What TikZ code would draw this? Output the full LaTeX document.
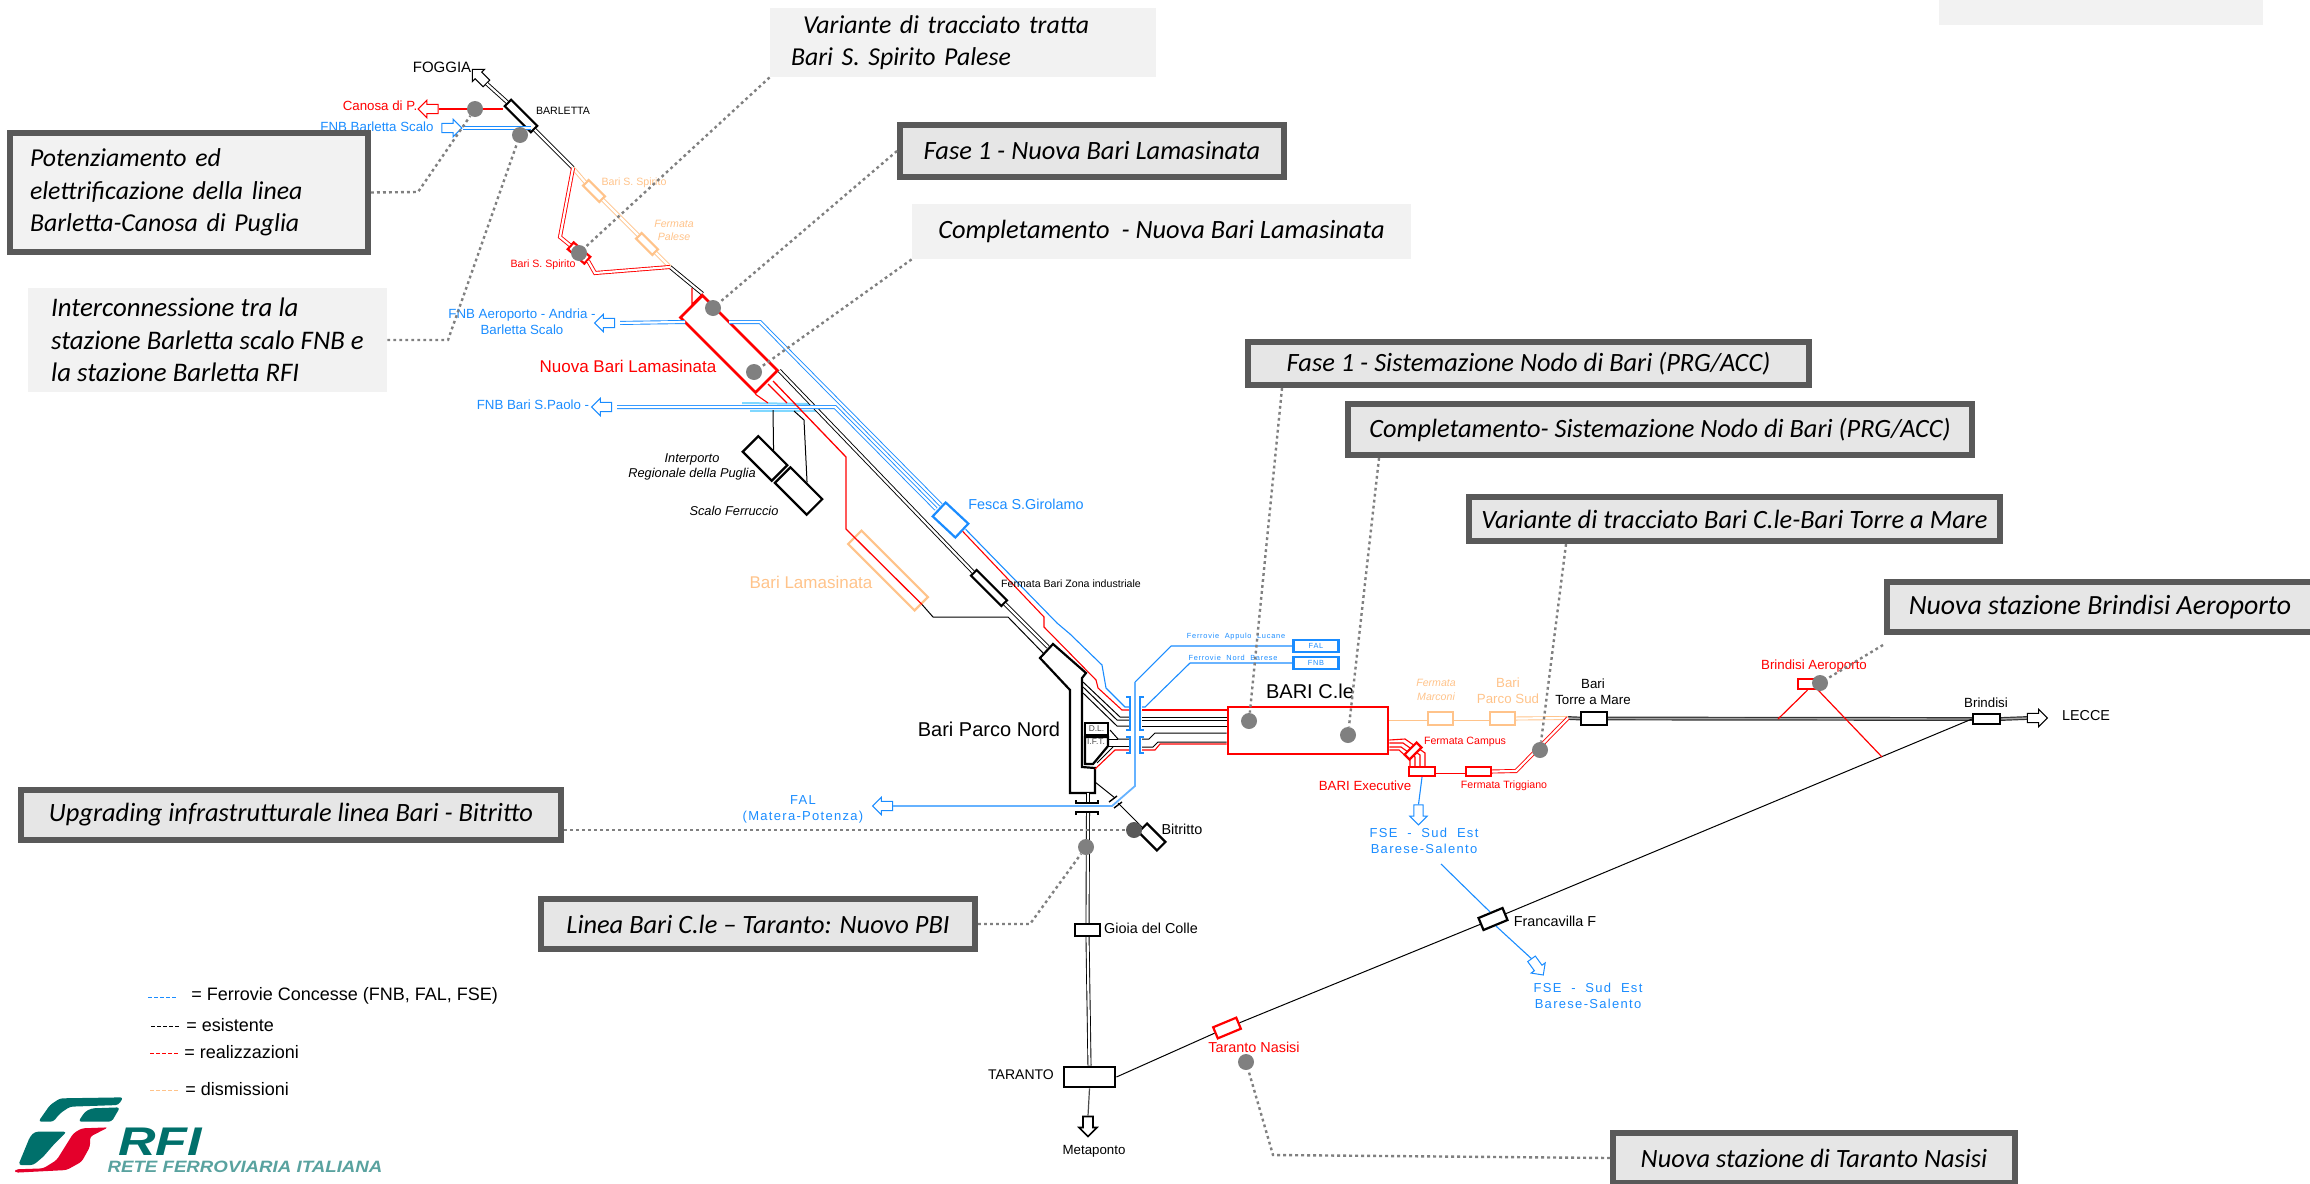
\documentclass[tikz,border=0pt]{standalone}
\usepackage{fontspec}
\setmainfont{Liberation Sans}
\newfontfamily\notefont{Carlito}
\newfontfamily\cadfont[LetterSpace=10]{Liberation Sans}
\usetikzlibrary{arrows.meta}
\usetikzlibrary{positioning}
\usetikzlibrary{shapes.arrows}
\definecolor{concblue}{HTML}{1A8CFF}
\definecolor{concpale}{HTML}{66B2FF}
\definecolor{concband}{HTML}{80D8FF}
\definecolor{newred}{HTML}{FF0000}
\definecolor{oldorange}{HTML}{FFC38A}
\definecolor{notedark}{HTML}{595959}
\definecolor{notelight}{HTML}{F2F2F2}
\definecolor{notemid}{HTML}{E6E6E6}
\definecolor{dotgray}{HTML}{808080}
\definecolor{rfigreen}{HTML}{00706B}
\definecolor{rfired}{HTML}{E4002B}

\begin{document}
\begin{tikzpicture}[
  x=.5pt, y=-.5pt,
  boxsize/.style 2 args={minimum width=#1*.5pt, minimum height=#2*.5pt},
  stn/.style={draw=black, fill=white, inner sep=0, line width=1.1pt},
  newstn/.style={stn, draw=newred},
  oldstn/.style={stn, draw=oldorange},
  concstn/.style={stn, draw=concblue},
  dbl/.style={draw=black, line width=.45pt, double=white, double distance=1.1pt},
  dblred/.style={dbl, draw=newred},
  dblold/.style={dbl, draw=oldorange},
  dblconc/.style={dbl, draw=concblue},
  dblmain/.style={draw=black!80, line width=.6pt, double=black!35, double distance=.7pt},
  rail/.style={draw=black, line width=.5pt},
  railred/.style={draw=newred, line width=.55pt},
  railconc/.style={draw=concblue, line width=.55pt},
  railpale/.style={draw=concpale, line width=.9pt},
  tie/.style={draw=concblue, line width=1.1pt},
  blockarrow/.style={single arrow, draw=black, fill=white, inner sep=2.1pt, line width=.5pt,
    minimum height=10pt, minimum width=8.2pt, single arrow head extend=2pt},
  lab/.style={inner sep=0, align=center, font=\fontsize{6.65}{8}\selectfont},
  labs/.style={lab, font=\fontsize{5.3}{6.5}\selectfont},
  labm/.style={lab, font=\fontsize{7.2}{8.6}\selectfont},
  labl/.style={lab, font=\fontsize{8.5}{10}\selectfont},
  labxl/.style={lab, font=\fontsize{10}{12}\selectfont},
  cad/.style={lab, text=concblue, font=\cadfont\fontsize{6.5}{8}\selectfont},
  cadsmall/.style={cad, font=\cadfont\fontsize{3.7}{4.5}\selectfont},
  legend/.style={lab, anchor=west, font=\fontsize{9}{11}\selectfont},
  legdash/.style={line width=.5pt, dash pattern=on 2pt off 1pt},
  note/.style={fill=notelight, inner sep=0, align=left, font=\notefont\itshape\fontsize{13.2}{16.2}\selectfont},
  noteframe/.style={note, draw=notedark, fill=notemid, line width=3pt},
  hotspot/.style={circle, fill=dotgray, inner sep=0, minimum size=8pt},
  leader/.style={draw=dotgray, line width=1.2pt, dash pattern=on 1.4pt off 1.6pt},
  ]

\useasboundingbox (0,0) rectangle (2310,1183);
\clip (0,0) rectangle (2310,1183);

\node [stn, boxsize={37}{9}, rotate=-45] (barletta) at (521,116) {};
\node [oldstn, boxsize={23}{8}, rotate=-45] (spiritoold) at (594,191) {};
\node [oldstn, boxsize={23}{8}, rotate=-45] (paleseold) at (647,244) {};
\node [newstn, boxsize={22}{9}, rotate=-41] (spiritonew) at (579,253) {};
\node [newstn, boxsize={106}{31}, rotate=-45, line width=1.3pt] (nuovabari) at (729,344) {};
\node [stn, boxsize={41}{22}, rotate=-45] (interporto) at (765,458.5) {};
\node [stn, boxsize={45}{22}, rotate=-45] (ferruccio) at (798.5,491) {};
\node [concstn, boxsize={31}{19}, rotate=-43] (fesca) at (950.5,520) {};
\node [oldstn, boxsize={94}{19}, rotate=-45, fill=none] (lamaold) at (888,570.5) {};
\node [stn, boxsize={43}{8}, rotate=-45] (zonaind) at (989,588) {};
\node [stn, boxsize={26}{12}, rotate=-45] (bitritto) at (1152,837) {};
\node [stn, boxsize={25}{12}] (gioia) at (1087.5,930) {};
\node [stn, boxsize={51}{20}, line width=1.4pt] (taranto) at (1089.5,1077) {};
\node [newstn, boxsize={25}{12}, rotate=22.6] (nasisi) at (1227,1028) {};
\node [stn, boxsize={26}{13}, rotate=22.6] (francavilla) at (1493,919) {};
\node [newstn, boxsize={160}{47}, line width=1.3pt] (baricle) at (1308,730.5) {};
\node [oldstn, boxsize={25}{13}] (marconi) at (1440.5,718.5) {};
\node [oldstn, boxsize={25}{13}] (parcosud) at (1502.5,718.5) {};
\node [stn, boxsize={26}{13}, line width=1.2pt] (torre) at (1594,718.5) {};
\node [stn, boxsize={27}{10}] (brindisi) at (1986.5,719) {};
\node [newstn, boxsize={19}{10}] (aeroporto) at (1807.5,684) {};
\node [newstn, boxsize={26}{9}] (executive) at (1422,771.5) {};
\node [newstn, boxsize={25}{9}] (triggiano) at (1478.5,771.5) {};
\node [concstn, boxsize={45}{12}, cadsmall, fill=white] (falbox) at (1316,646) {FAL};
\node [concstn, boxsize={45}{12}, cadsmall, fill=white] (fnbbox) at (1316,663) {FNB};

\node [blockarrow, rotate=135] (arrfoggia) at (481,78) {};
\node [blockarrow, rotate=180, draw=newred] (arrcanosa) at (430.5,109) {};
\node [blockarrow, draw=concblue] (arrfnb) at (449.5,128) {};
\node [blockarrow, rotate=180, draw=concblue] (arrandria) at (607,323) {};
\node [blockarrow, rotate=180, draw=concblue] (arrpaolo) at (604,407) {};
\node [blockarrow, rotate=180, draw=concblue] (arrfal) at (885,806) {};
\node [blockarrow, rotate=-90, line width=.8pt] (arrmeta) at (1088,1124) {};
\node [blockarrow] (arrlecce) at (2035,718) {};
\node [blockarrow, rotate=-90, draw=concblue] (arrfse) at (1418.5,812.5) {};
\node [blockarrow, rotate=-54, draw=concblue] (arrsalento) at (1536,965) {};

\coordinate (jspirito) at (573,168);
\coordinate (jpalese) at (670,267);
\coordinate (andriain) at (685,322);
\coordinate (andriaout) at (729,322);
\coordinate (paoloin) at (936,509);
\coordinate (andriafes) at (941,505);
\coordinate (parcoin) at (1048,647);
\coordinate (parcoside) at (1044,654);
\coordinate (jtorre) at (1568,718);
\coordinate (fsestart) at (1441,864);
\coordinate (bandone) at (742,403);
\coordinate (bandtwo) at (813,404);
\coordinate (bandthree) at (750,411);
\coordinate (bandfour) at (820,411);
\coordinate (branchup) at (1778,719);
\coordinate (branchdown) at (1882,757);

\draw [concband, line width=1pt] (bandone) -- (bandtwo);
\draw [concband, line width=1pt] (bandthree) -- (bandfour);

\path [rail] (773,410) edge (interporto.north);
\draw [rail] (794,411) -- (804,420) -- (ferruccio.north);

\path [every edge/.style={dbl}]
(arrfoggia.tail) edge (barletta.west)
(barletta.east) edge (jspirito)
(jpalese) edge (nuovabari.north west)
(nuovabari.north east) edge (zonaind.west)
(zonaind.east) edge (parcoin)
(gioia.south) edge (taranto.north);
\path [every edge/.style={dblmain}]
(jtorre) edge (torre.west)
(torre.east) edge (brindisi.west)
(brindisi.east) edge (arrlecce.tail);
\draw [dbl] (1088,812) -- (gioia.north);
\path [every edge/.style={dblold}]
(jspirito) edge (spiritoold.west)
(spiritoold.east) edge (paleseold.west)
(paleseold.east) edge (jpalese)
(baricle.east |- marconi.west) edge (marconi.west)
(marconi.east) edge (parcosud.west)
(parcosud.east) edge (jtorre);
\draw [dblred] (jspirito) -- (560,237) -- (spiritonew.west);
\draw [dblred] (spiritonew.east) -- (595,273) -- (jpalese);
\draw [dblred] (jtorre) -- (1516,771) -- (triggiano.east);
\draw [dblred] (triggiano.west) -- (executive.east);

\draw [railred, line width=.7pt] (arrcanosa.tail) -- (arrcanosa.tail -| barletta.south west);
\draw [dblconc] (arrfnb.tip) -- (arrfnb.tip -| barletta.south east);
\draw [dblconc, shorten <=2.5pt] (arrandria.tail) -- (andriain);
\draw [dblconc] (andriaout) -- (760,322) -- (andriafes);
\draw [dblconc, shorten <=2.5pt] (arrpaolo.tail) -- (835,407) -- (paoloin);

\draw [railred] (nuovabari.north west) -- (692,304) -- (692,288);
\draw [railred] (nuovabari.south east) -- (768,403);
\draw [railred] (768,384) -- (787,403);
\draw [railred, line width=.65pt] (773,381) -- (846,457) -- (846,529) -- (lamaold.east);
\draw [rail] (lamaold.east) -- (933,617) -- (1008,617) -- (parcoside);
\draw [railred] (fesca.east) -- (1044,617) -- (1044,627) -- (1096,680) -- (1098,688) -- (1122,710) -- (1130,710);
\draw [railconc] ([shift={(3,-2)}]fesca.east) -- (1057,623) -- (1070,634) -- (1102,665) -- (1106,688) -- (1125,707) -- (1130,707);

\draw [railconc] (falbox.west) -- (1171,646) -- (1135,682);
\draw [railpale] (1135,682) -- (1135,786) -- (1112,806) -- (arrfal.tail);
\draw [railconc] (fnbbox.west) -- (1190,663) -- (1145,707) -- (1142,707);

\draw [stn, line width=1.1pt] (1053,644) -- (1040,658) -- (1070,690) -- (1070,793) -- (1095,793) -- (1095,768) -- (1082,767) -- (1082,678) -- (1086,673) -- cycle;
\node [stn, boxsize={23}{12}, text=black!70, font=\fontsize{4.2}{5}\selectfont] (dlbox) at (1096.5,729) {D.L.};
\draw [stn] (1085,737) -- (1108,737) -- (1108,746) -- (1093,764) -- (1085,764) -- cycle;
\node [inner sep=0, text=black!70, font=\fontsize{4.2}{5}\selectfont] (iftbox) at (1096,742) {I.F.T.};

\draw [rail] (1083,682) -- (1120,717) -- (1130,717);
\draw [rail] (1083,687) -- (1117,720) -- (1130,720);
\draw [rail] (1083,693) -- (1117,726) -- (1130,726);
\draw [rail] (1110,730) -- (1118,739) -- (1130,739);
\draw [rail] (1108,739) -- (1118,739);
\draw [rail] (1108,746) -- (1130,746);
\draw [rail] (1097,763) -- (1113,747);
\draw [railred] (1095,769) -- (1115,750) -- (1130,750);
\draw [railred] (1142,710) -- (baricle.west |- 0,710);
\draw [rail] (1142,717) -- (baricle.west |- 0,717);
\draw [rail] (1142,720) -- (baricle.west |- 0,720);
\draw [rail] (1142,726) -- (baricle.west |- 0,726);
\draw [rail] (1142,739) -- (1149,739) -- (1155,733) -- (baricle.west |- 0,733);
\draw [rail] (1142,747) -- (1153,747) -- (1158,742) -- (baricle.west |- 0,742);
\draw [railred] (1142,750) -- (1155,750) -- (1160,744) -- (baricle.west |- 0,744);
\foreach \ya/\yb in {697/730,737/753} {
  \draw [tie] (1126,\ya) -- (1130,\ya) -- (1130,\yb) -- (1126,\yb);
  \draw [tie] (1144,\ya) -- (1140,\ya) -- (1140,\yb) -- (1144,\yb);
}

\draw [dbl] (1088,793) -- (1088,803);
\draw [rail, line width=.8pt] (1076,800) -- (1076,803) -- (1098,803) -- (1098,800);
\draw [rail, line width=.8pt] (1076,815) -- (1076,812) -- (1098,812) -- (1098,815);
\draw [rail] (1095,782) -- (1115,798);
\draw [rail, line width=.7pt] (1109,802) -- (1117,796);
\draw [rail, line width=.7pt] (1114,808) -- (1122,802);
\draw [rail] (1118,803) -- (bitritto.west);
\draw [rail, draw=black!70, line width=.6pt] (taranto.south) -- (arrmeta.tail);
\path [rail]
(taranto.east) edge (nasisi.west)
(nasisi.east) edge (francavilla.west)
(francavilla.east) edge (brindisi.west);

\draw [railred, line width=.6pt] (aeroporto.south) -- (branchup);
\draw [railred, line width=.6pt] (aeroporto.south east) -- (branchdown);

\draw [railred] (baricle.east |- 0,740) -- (1405,739) -- (1425,753) -- (1425,767);
\draw [railred] (baricle.east |- 0,743) -- (1403,743) -- (1420,755) -- (1420,767);
\draw [railred] (baricle.east |- 0,747) -- (1401,747) -- (1415,757) -- (1415,767);
\draw [railred] (baricle.east |- 0,750) -- (1399,750) -- (1410,760) -- (1410,767);
\node [newstn, boxsize={17}{7}, rotate=45] (campus) at (1413,751) {};

\draw [railconc] (executive.south) -- (arrfse.tail);
\draw [railconc] (fsestart) -- (francavilla.north);
\draw [railconc] (francavilla.south) -- (arrsalento.tail);

\node [labm, font=\fontsize{7.5}{9}\selectfont] (foggialab) at (442,67) {FOGGIA};
\node [labs] (barlettalab) at (563,111) {BARLETTA};
\node [lab, text=newred] (canosalab) at (380,106) {Canosa di P.};
\node [lab, text=concblue] (fnblab) at (377,127) {FNB Barletta Scalo};
\node [labs, text=oldorange] (spiritooldlab) at (634,183) {Bari S. Spirito};
\node [labs, text=oldorange, font=\itshape\fontsize{5.3}{6.5}\selectfont] (paleselab) at (674,230) {Fermata\\Palese};
\node [labs, text=newred] (spiritonewlab) at (543,265) {Bari S. Spirito};
\node [lab, text=concblue] (andrialab) at (522,322) {FNB Aeroporto - Andria -\\Barletta Scalo};
\node [labl, text=newred] (nuovalab) at (628,366) {Nuova Bari Lamasinata};
\node [lab, text=concblue] (paololab) at (533,405) {FNB Bari S.Paolo -};
\node [lab, font=\itshape\fontsize{6.4}{7.5}\selectfont] (interportolab) at (692,466.5) {Interporto\\Regionale della Puglia};
\node [lab, font=\itshape\fontsize{6.4}{7.5}\selectfont] (ferrucciolab) at (734,511) {Scalo Ferruccio};
\node [labm, text=concblue] (fescalab) at (1026,504) {Fesca S.Girolamo};
\node [labl, text=oldorange] (lamaoldlab) at (811,582) {Bari Lamasinata};
\node [labs] (zonalab) at (1071,584) {Fermata Bari Zona industriale};
\node [labxl] (parconordlab) at (989,729) {Bari Parco Nord};
\node [cadsmall] (appulolab) at (1236,637) {Ferrovie\ \ Appulo\ \ Lucane};
\node [cadsmall] (baresefnblab) at (1233,658) {Ferrovie\ \ Nord\ \ Barese};
\node [labxl] (baricle lab) at (1310,691) {BARI C.le};
\node [labs, text=oldorange, font=\itshape\fontsize{5.3}{7}\selectfont] (marconilab) at (1436,690) {Fermata\\Marconi};
\node [lab, text=oldorange] (parcosudlab) at (1508,691) {Bari\\Parco Sud};
\node [lab] (torrelab) at (1593,691.5) {Bari\\Torre a Mare};
\node [lab] (brindisilab) at (1986,703) {Brindisi};
\node [lab, text=newred] (aeroportolab) at (1814,666) {Brindisi Aeroporto};
\node [labm] (leccelab) at (2086,716) {LECCE};
\node [labs, text=newred] (campuslab) at (1465,742) {Fermata Campus};
\node [labs, text=newred] (triggianolab) at (1504,786) {Fermata Triggiano};
\node [lab, text=newred] (executivelab) at (1365,786) {BARI Executive};
\node [cad] (fselab) at (1424,841) {FSE\ \ -\ \ Sud\ \ Est\\Barese-Salento};
\node [cad] (salentolab) at (1588,996) {FSE\ \ -\ \ Sud\ \ Est\\Barese-Salento};
\node [cad] (fallab) at (803,809) {FAL\\(Matera-Potenza)};
\node [labm] (bitrittolab) at (1182,829) {Bitritto};
\node [labm] (gioialab) at (1151,928) {Gioia del Colle};
\node [labm] (francavillalab) at (1555,921) {Francavilla F};
\node [labm, text=newred] (nasisilab) at (1254,1047) {Taranto Nasisi};
\node [lab, font=\fontsize{7}{9}\selectfont] (tarantolab) at (1021,1075) {TARANTO};
\node [lab] (metapontolab) at (1094,1151) {Metaponto};

\coordinate (legblueA) at (148,997);
\coordinate (legblueB) at (177,997);
\coordinate (legblackA) at (151,1026);
\coordinate (legblackB) at (180,1026);
\coordinate (legredA) at (150,1053);
\coordinate (legredB) at (178,1053);
\coordinate (legoldA) at (150,1090);
\coordinate (legoldB) at (178,1090);
\draw [legdash, concblue] (legblueA) -- (legblueB);
\draw [legdash, black] (legblackA) -- (legblackB);
\draw [legdash, newred] (legredA) -- (legredB);
\draw [legdash, oldorange] (legoldA) -- (legoldB);
\node [legend] (legconc) at (191,996) {= Ferrovie Concesse (FNB, FAL, FSE)};
\node [legend] (legexist) at (186,1025) {= esistente};
\node [legend] (legreal) at (184,1052) {= realizzazioni};
\node [legend] (legdism) at (185,1089) {= dismissioni};

\begin{scope}[shift={(10,1090)}, x=.1667pt, y=-.1667pt]
\fill [rfigreen, rounded corners=1.5pt] (85,95) -- (120,45) -- (150,25) -- (340,22) -- (325,45) -- (180,50) -- (150,70) -- (130,95) -- cycle;
\fill [rfigreen, rounded corners=1.5pt] (205,95) -- (225,65) -- (245,55) -- (330,52) -- (305,95) -- cycle;
\fill [rfigreen, rounded corners=1.5pt] (25,225) -- (70,225) -- (100,200) -- (130,165) -- (170,125) -- (75,125) -- (60,140) -- cycle;
\fill [rfired, rounded corners=1.5pt] (15,238) -- (100,235) -- (140,210) -- (165,170) -- (190,130) -- (215,115) -- (295,112) -- (240,140) -- (240,170) -- (215,215) -- (170,240) -- (15,248) -- cycle;
\end{scope}
\node [inner sep=0, xscale=1.3, text=rfigreen, font=\bfseries\itshape\fontsize{20}{24}\selectfont] (rfilogo) at (160,1142) {RFI};
\node [inner sep=0, xscale=1.14, text=rfigreen!65, font=\bfseries\itshape\fontsize{8.2}{10}\selectfont] (retelogo) at (245,1167) {RETE FERROVIARIA ITALIANA};

\node [note, boxsize={324}{25}] (notetop) at (2101,12.5) {};
\node [noteframe, fill=notelight, boxsize={358}{119}, text width=159pt, font=\notefont\itshape\fontsize{12.9}{16.2}\selectfont] (notecanosa) at (189,192.5) {Potenziamento ed\\elettrificazione della linea\\Barletta-Canosa di Puglia};
\node [note, boxsize={359}{104}, font=\notefont\itshape\fontsize{13.4}{16.2}\selectfont] (noteinter) at (207.5,340) {Interconnessione tra la\\stazione Barletta scalo FNB e\\la stazione Barletta RFI};
\node [note, boxsize={386}{69}, text width=172pt, font=\notefont\itshape\fontsize{12.9}{16.2}\selectfont] (notevariante) at (963,42.5) {\hspace*{6pt}Variante di tracciato tratta\\Bari S. Spirito Palese};
\node [noteframe, boxsize={384}{52}] (notefase) at (1092,151) {Fase 1 - Nuova Bari Lamasinata};
\node [note, boxsize={499}{55}] (notecompl) at (1161.5,231.5) {Completamento\ \ - Nuova Bari Lamasinata};
\node [noteframe, boxsize={561}{43}] (notenodo) at (1528.5,363.5) {Fase 1 - Sistemazione Nodo di Bari (PRG/ACC)};
\node [noteframe, boxsize={624}{51}] (notenodocompl) at (1660,429.5) {Completamento- Sistemazione Nodo di Bari (PRG/ACC)};
\node [noteframe, boxsize={531}{44}] (notetorre) at (1734.5,519) {Variante di tracciato Bari C.le-Bari Torre a Mare};
\node [noteframe, boxsize={426}{50}, font=\notefont\itshape\fontsize{13.9}{16.2}\selectfont] (noteaero) at (2100,607) {Nuova stazione Brindisi Aeroporto};
\node [noteframe, boxsize={540}{50}] (notebitritto) at (291,815) {Upgrading infrastrutturale linea Bari - Bitritto};
\node [noteframe, boxsize={434}{50}] (notepbi) at (758,924) {Linea Bari C.le – Taranto: Nuovo PBI};
\node [noteframe, boxsize={402}{50}] (notenasisi) at (1814,1158) {Nuova stazione di Taranto Nasisi};

\node [hotspot] (dotcanosa) at (475,109) {};
\node [hotspot] (dotinter) at (520,135) {};
\node [hotspot] (dotspirito) at (579,253) {};
\node [hotspot] (dotfase) at (713,308) {};
\node [hotspot] (dotcompl) at (754,372) {};
\node [hotspot] (dotnodo) at (1249,721) {};
\node [hotspot] (dotnodocompl) at (1348,735) {};
\node [hotspot] (dottorre) at (1540,750) {};
\node [hotspot] (dotaero) at (1820,683) {};
\node [hotspot, fill=black!65] (dotbitritto) at (1134,830) {};
\node [hotspot] (dotpbi) at (1086,847) {};
\node [hotspot] (dotnasisi) at (1246,1062) {};
\coordinate (aeroend) at (1883,645);

\draw [leader] (notecanosa.east) -- (418,192) -- (dotcanosa);
\draw [leader] (noteinter.east) -- (448,340) -- (dotinter);
\draw [leader] (notevariante.south west) -- (dotspirito);
\draw [leader] (notefase.west) -- (dotfase);
\draw [leader] (notecompl.south west) -- (dotcompl);
\draw [leader] ([xshift=18.5pt]notenodo.south west) -- (dotnodo);
\draw [leader] ([xshift=17pt]notenodocompl.south west) -- (dotnodocompl);
\draw [leader] ([xshift=50pt]notetorre.south west) -- (dottorre);
\draw [leader] (aeroend) -- (dotaero);
\draw [leader] (notebitritto.east |- dotbitritto) -- (dotbitritto);
\draw [leader] (notepbi.east) -- (1030,924) -- (dotpbi);
\draw [leader] (notenasisi.west) -- (1273,1155) -- (dotnasisi);
\end{tikzpicture}
\end{document}
